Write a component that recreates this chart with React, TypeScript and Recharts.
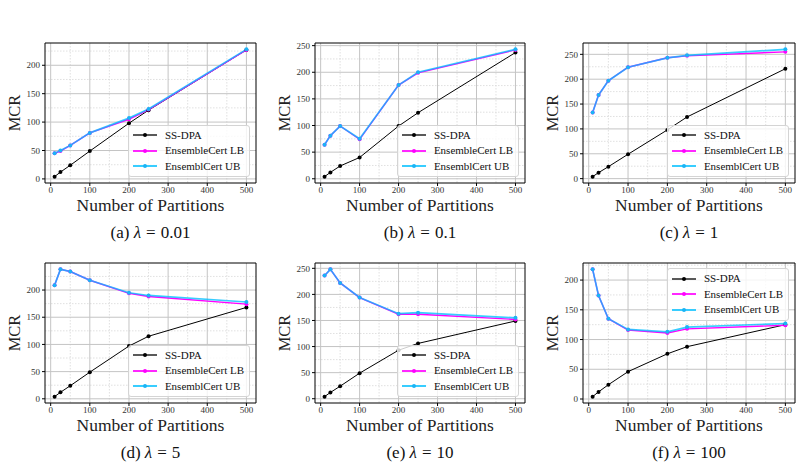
import React from 'react';
import {
  LineChart,
  Line,
  XAxis,
  YAxis,
  CartesianGrid,
  Legend,
  ReferenceArea,
} from 'recharts';

const SERIF = '"Liberation Serif", serif';

const PARTITIONS = [10, 25, 50, 100, 200, 250, 500];
const X_TICKS = [0, 100, 200, 300, 400, 500];
const X_MINOR = [50, 150, 250, 350, 450];

// (a) lambda = 0.01
const SS_A = [4, 12, 24, 49, 98, 121, 227];
const LB_A = [45, 49, 59, 81, 105, 122, 227];
const UB_A = [45, 50, 59, 81, 107, 123, 228];
// (b) lambda = 0.1
const SS_B = [4, 12, 24, 40, 99, 124, 237];
const LB_B = [64, 81, 99, 74, 176, 199, 242];
const UB_B = [64, 81, 99, 75, 176, 200, 243];
// (c) lambda = 1
const SS_C = [4, 12, 24, 49, 98, 124, 221];
const LB_C = [133, 168, 197, 224, 243, 247, 255];
const UB_C = [133, 168, 197, 224, 243, 248, 260];
// (d) lambda = 5
const SS_D = [4, 12, 24, 49, 97, 115, 168];
const LB_D = [209, 238, 234, 218, 194, 188, 174];
const UB_D = [209, 238, 234, 218, 195, 190, 178];
// (e) lambda = 10
const SS_E = [4, 12, 24, 49, 93, 106, 149];
const LB_E = [236, 248, 222, 194, 162, 162, 152];
const UB_E = [236, 248, 222, 194, 163, 165, 155];
// (f) lambda = 100
const SS_F = [4, 12, 24, 46, 76, 88, 125];
const LB_F = [218, 174, 135, 116, 111, 118, 124];
const UB_F = [218, 174, 135, 117, 113, 121, 127];

const SERIES = [
  { key: 'ss', name: 'SS-DPA', color: '#000000', width: 1, opacity: 1, dot: '#000000' },
  { key: 'lb', name: 'EnsembleCert LB', color: '#ff00ff', width: 1.4, opacity: 1, dot: '#ff00ff' },
  { key: 'ub', name: 'EnsemblCert UB', color: '#00bfff', width: 1.7, opacity: 0.78, dot: '#1ab4f5' },
];

const PANELS = [
  { tag: 'a', lam: '0.01', ss: SS_A, lb: LB_A, ub: UB_A, left: 45, top: 43, w: 211, legend: 'bottom' },
  { tag: 'b', lam: '0.1', ss: SS_B, lb: LB_B, ub: UB_B, left: 315, top: 43, w: 210, legend: 'bottom' },
  { tag: 'c', lam: '1', ss: SS_C, lb: LB_C, ub: UB_C, left: 583, top: 43, w: 212, legend: 'bottom' },
  { tag: 'd', lam: '5', ss: SS_D, lb: LB_D, ub: UB_D, left: 45, top: 263, w: 211, legend: 'bottom' },
  { tag: 'e', lam: '10', ss: SS_E, lb: LB_E, ub: UB_E, left: 315, top: 263, w: 210, legend: 'bottom' },
  { tag: 'f', lam: '100', ss: SS_F, lb: LB_F, ub: UB_F, left: 583, top: 263, w: 212, legend: 'top' },
];

const PLOT_H = 140;
const AXIS_W = 45;
const AXIS_H = 50;
const M_TOP = 13;
const M_RIGHT = 8;

function pad(lo: number, hi: number): [number, number] {
  const p = (hi - lo) * 0.05;
  return [lo - p, hi + p];
}

function LegendBox() {
  return (
    <div
      style={{
        background: 'rgba(255,255,255,0.8)',
        border: '1px solid #d4d4d4',
        borderRadius: 3,
        padding: '2px 5px 2px 4px',
        fontFamily: SERIF,
        fontSize: 11,
        lineHeight: '15.5px',
        color: '#111',
        whiteSpace: 'nowrap',
      }}
    >
      {SERIES.map((s) => (
        <div key={s.key} style={{ display: 'flex', alignItems: 'center' }}>
          <svg width={24} height={8} style={{ display: 'block' }}>
            <line x1={0} y1={4} x2={24} y2={4} stroke={s.color} strokeWidth={s.width + 0.3} strokeOpacity={s.opacity} />
            <circle cx={12} cy={4} r={2} fill={s.dot} />
          </svg>
          <span style={{ marginLeft: 8 }}>{s.name}</span>
        </div>
      ))}
    </div>
  );
}

function Panel({ p }: { p: (typeof PANELS)[number] }) {
  const rows = PARTITIONS.map((x, i) => ({ x, ss: p.ss[i], lb: p.lb[i], ub: p.ub[i] }));
  const all = [...p.ss, ...p.lb, ...p.ub];
  const yDomain = pad(Math.min(...all), Math.max(...all));
  const xDomain = pad(PARTITIONS[0], PARTITIONS[PARTITIONS.length - 1]);
  const yMajor: number[] = [];
  for (let v = 0; v <= yDomain[1]; v += 50) yMajor.push(v);
  const yMinor: number[] = [];
  for (let v = 25; v <= yDomain[1]; v += 50) yMinor.push(v);

  const chartW = p.w + AXIS_W + M_RIGHT;
  const chartH = M_TOP + PLOT_H + AXIS_H;
  const legendStyle =
    p.legend === 'top'
      ? { width: 'auto', height: 'auto', right: M_RIGHT + 6, top: M_TOP + 5, left: undefined }
      : { width: 'auto', height: 'auto', right: M_RIGHT + 6, bottom: AXIS_H + 6, left: undefined };

  return (
    <div style={{ position: 'absolute', left: p.left - AXIS_W, top: p.top - M_TOP }}>
      <LineChart
        width={chartW}
        height={chartH}
        data={rows}
        margin={{ top: M_TOP, right: M_RIGHT, left: 0, bottom: 0 }}
        style={{ fontFamily: SERIF }}
      >
        <CartesianGrid
          horizontalValues={yMinor}
          verticalValues={X_MINOR}
          stroke="#d8d8d8"
          strokeDasharray="1.5 1.5"
          strokeWidth={0.8}
        />
        <CartesianGrid horizontalValues={yMajor} verticalValues={X_TICKS} stroke="#c4c4c4" strokeWidth={1} />
        <XAxis
          dataKey="x"
          type="number"
          domain={xDomain}
          ticks={X_TICKS}
          allowDataOverflow
          height={AXIS_H}
          axisLine={false}
          tickSize={3}
          tickMargin={1}
          tickLine={{ stroke: '#000' }}
          tick={{ fontFamily: SERIF, fontSize: 9, fill: '#333' }}
          label={(lp: any) => {
            const vb = lp.viewBox;
            return (
              <text
                x={vb.x + vb.width / 2}
                y={vb.y + 28}
                textAnchor="middle"
                style={{ fontFamily: SERIF }}
                fontSize={17.5}
                fill="#222"
              >
                Number of Partitions
              </text>
            );
          }}
        />
        <YAxis
          type="number"
          domain={yDomain}
          ticks={yMajor}
          allowDataOverflow
          width={AXIS_W}
          axisLine={false}
          tickSize={3}
          tickMargin={2}
          tickLine={{ stroke: '#000' }}
          tick={{ fontFamily: SERIF, fontSize: 9, fill: '#333' }}
          label={(lp: any) => {
            const vb = lp.viewBox;
            const cx = vb.x + 14;
            const cy = vb.y + vb.height / 2;
            return (
              <text
                x={cx}
                y={cy}
                transform={`rotate(-90 ${cx} ${cy})`}
                textAnchor="middle"
                dominantBaseline="central"
                style={{ fontFamily: SERIF }}
                fontSize={16.5}
                fill="#222"
              >
                MCR
              </text>
            );
          }}
        />
        <ReferenceArea
          x1={xDomain[0]}
          x2={xDomain[1]}
          y1={yDomain[0]}
          y2={yDomain[1]}
          fill="none"
          stroke="#000"
          strokeWidth={1}
          ifOverflow="visible"
        />
        {SERIES.map((s) => (
          <Line
            key={s.key}
            dataKey={s.key}
            name={s.name}
            stroke={s.color}
            strokeWidth={s.width}
            strokeOpacity={s.opacity}
            dot={{ r: 2, fill: s.dot, stroke: 'none' }}
            activeDot={false}
            isAnimationActive={false}
          />
        ))}
        <Legend
          layout="vertical"
          align="center"
          verticalAlign="middle"
          content={() => <LegendBox />}
          wrapperStyle={legendStyle as any}
        />
      </LineChart>
      <div
        style={{
          position: 'absolute',
          left: AXIS_W,
          width: p.w,
          top: M_TOP + PLOT_H + 40,
          textAlign: 'center',
          fontFamily: SERIF,
          fontSize: 17,
          color: '#111',
          whiteSpace: 'nowrap',
        }}
      >
        ({p.tag}) <i>λ</i>
        <span style={{ margin: '0 5px' }}>=</span>
        {p.lam}
      </div>
    </div>
  );
}

export default function App() {
  return (
    <div
      style={{
        position: 'absolute',
        left: 0,
        top: 0,
        width: 802,
        height: 473,
        background: '#fff',
        overflow: 'hidden',
        fontFamily: SERIF,
      }}
    >
      {PANELS.map((p) => (
        <Panel key={p.tag} p={p} />
      ))}
    </div>
  );
}
